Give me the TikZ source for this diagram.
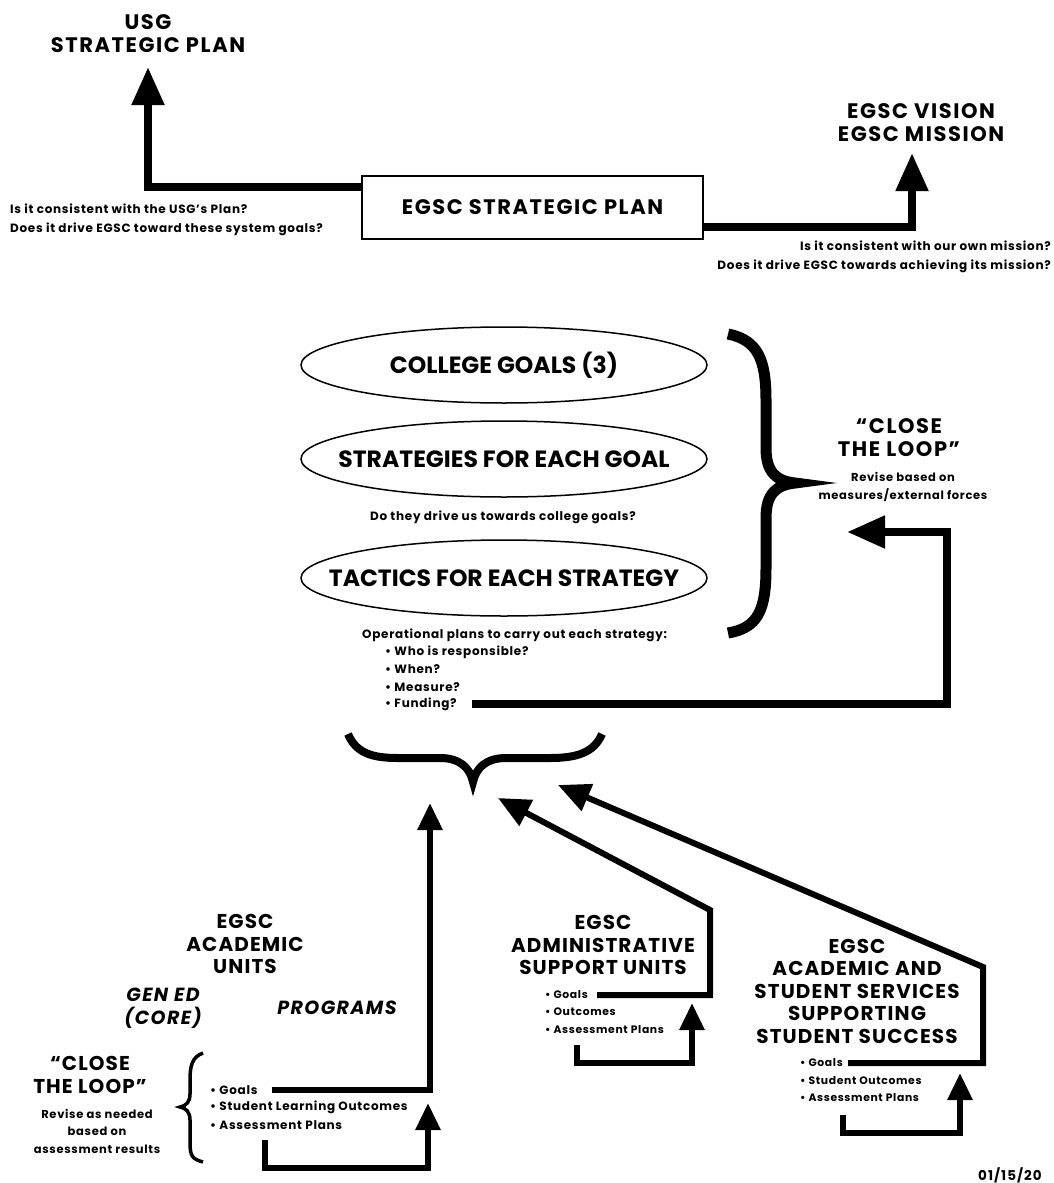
\documentclass[tikz,border=0pt]{standalone}
\usepackage{fontspec}
\setmainfont{Poppins}
\newfontfamily\hdfont{Poppins}[LetterSpace=7.5]
\newfontfamily\hdbfont{Poppins}[LetterSpace=5.5]
\newfontfamily\smfont{Poppins}[LetterSpace=6]
\usetikzlibrary{arrows.meta,shapes.geometric}
\begin{document}
\begin{tikzpicture}[x=1pt,y=-1pt,
  hd/.style={font=\hdfont\bfseries\fontsize{21}{23}\selectfont, align=center, inner sep=0pt},
  hdb/.style={font=\hdbfont\bfseries\fontsize{20}{22.5}\selectfont, align=center, inner sep=0pt},
  hdi/.style={font=\hdfont\bfseries\itshape\fontsize{19}{23}\selectfont, align=center, inner sep=0pt},
  sm/.style={font=\smfont\bfseries\fontsize{12}{19}\selectfont, inner sep=0pt},
  smc/.style={font=\smfont\bfseries\fontsize{11.5}{17.5}\selectfont, inner sep=0pt, align=center},
  bul/.style={font=\smfont\bfseries\fontsize{12}{17.5}\selectfont, inner sep=0pt, anchor=west},
  buls/.style={font=\smfont\bfseries\fontsize{10.8}{17.5}\selectfont, inner sep=0pt, anchor=west},
  bigarrow/.style={line width=8pt, -{Triangle[length=38pt,width=31pt]}},
  midarrow/.style={line width=6pt, -{Triangle[length=27pt,width=24pt]}},
  diagarrow/.style={line width=6pt, -{Triangle[length=32pt,width=28pt]}},
  brace/.style={line width=11pt},
  oval/.style={ellipse, draw, line width=1.5pt, minimum width=406pt, minimum height=76pt,
    inner xsep=-40pt, inner ysep=0pt, font=\bfseries\fontsize{23.5}{23.5}\selectfont}
]
\path[use as bounding box] (0,0) rectangle (1053,1183);

% ---------- top ----------
\node[hd] (usg) at (148,34) {USG\\STRATEGIC PLAN};
\node[draw, line width=1.5pt, minimum width=341pt, minimum height=63pt, inner sep=0pt,
  font=\hdfont\bfseries\fontsize{21}{21}\selectfont] (plan) at (532.5,207.5) {EGSC STRATEGIC PLAN};
\node[sm, anchor=west, align=left] (q1) at (10,219.5)
  {Is it consistent with the USG’s Plan?\\Does it drive EGSC toward these system goals?};
\node[hd] (vision) at (921,123) {EGSC VISION\\EGSC MISSION};
\node[sm, anchor=east, align=right] (q2) at (1051,257)
  {Is it consistent with our own mission?\\Does it drive EGSC towards achieving its mission?};

\coordinate (usgTip) at (148,67);
\coordinate (visTip) at (912,153);
\draw[bigarrow] ([yshift=20.5pt]plan.west) -| (usgTip);
\draw[bigarrow] ([yshift=-19.5pt]plan.east) -| (visTip);

% ---------- middle ----------
\node[oval] (goals) at (504,365) {COLLEGE GOALS (3)};
\node[oval] (strat) at (504,459) {STRATEGIES FOR EACH GOAL};
\node[sm] (dothey) at (503,517) {Do they drive us towards college goals?};
\node[oval] (tact) at (504,578) {TACTICS FOR EACH STRATEGY};

\node[sm, anchor=west] (oper) at (362,635) {Operational plans to carry out each strategy:};
\node[bul] (b1) at (385,652) {• Who is responsible?};
\node[bul] (b2) at (385,669) {• When?};
\node[bul] (b3) at (385,687) {• Measure?};
\node[bul] (b4) at (385,704) {• Funding?};

% right brace
\draw[brace] (728,334) .. controls (758,340) and (766,360) .. (766,400) -- (766,448)
  .. controls (766,472) and (776,481) .. (795,483)
  .. controls (776,485) and (766,494) .. (766,518) -- (766,568)
  .. controls (766,610) and (758,628) .. (728,633);

\node[hd] (close1) at (899,438) {“CLOSE\\THE LOOP”};
\node[smc] (rev1) at (903,487) {Revise based on\\measures/external forces};

\coordinate (loopCorner) at (947,532);
\coordinate (loopTip) at (847,532);
\draw[bigarrow] ([xshift=15pt]b4.east) -| (loopCorner) -- (loopTip);

% bottom brace
\draw[line width=8pt] (348,734) .. controls (356,753) and (372,758) .. (398,758) -- (440,758)
  .. controls (460,758) and (470,768) .. (473,782)
  .. controls (476,768) and (486,758) .. (506,758) -- (550,758)
  .. controls (576,758) and (594,753) .. (602,734);

% ---------- bottom: academic units ----------
\node[hdb] (acad) at (245,944) {EGSC\\ACADEMIC\\UNITS};
\node[hdi] (gened) at (163,1008) {GEN ED\\(CORE)};
\node[hdi] (prog) at (337,1008) {PROGRAMS};
\node[hdb] (close2) at (90,1075) {“CLOSE\\THE LOOP”};
\node[smc] (rev2) at (97,1131) {Revise as needed\\based on\\assessment results};
\draw[line width=3.5pt] (203,1053) .. controls (192,1057) and (190,1066) .. (190,1080) -- (190,1094)
  .. controls (190,1102) and (186,1106) .. (180,1107)
  .. controls (186,1108) and (190,1112) .. (190,1120) -- (190,1142)
  .. controls (190,1156) and (192,1159) .. (203,1162);

\node[bul] (ag) at (210,1090) {• Goals};
\node[bul] (aslo) at (210,1107) {• Student Learning Outcomes};
\node[bul] (aap) at (210,1125) {• Assessment Plans};

\coordinate (acadTip) at (430,803);
\draw[midarrow] ([xshift=14pt]ag.east) -| (acadTip);
\coordinate (aLoopS) at (265,1140);
\coordinate (aLoopTip) at (428,1103);
\draw[midarrow] (aLoopS) |- (428,1168) -- (aLoopTip);

% ---------- administrative ----------
\node[hdb] (admin) at (603,945) {EGSC\\ADMINISTRATIVE\\SUPPORT UNITS};
\node[buls] (dg) at (545,995) {• Goals};
\node[buls] (dout) at (545,1012) {• Outcomes};
\node[buls] (dap) at (545,1030) {• Assessment Plans};

\coordinate (adminCorner) at (710,910);
\coordinate (adminTip) at (498,798);
\draw[diagarrow] ([xshift=9pt]dg.east) -| (adminCorner) -- (adminTip);
\coordinate (dLoopS) at (577,1045);
\coordinate (dLoopTip) at (692,1003);
\draw[midarrow] (dLoopS) |- (692,1063) -- (dLoopTip);

% ---------- services ----------
\node[hdb] (serv) at (857,991) {EGSC\\ACADEMIC AND\\STUDENT SERVICES\\SUPPORTING\\STUDENT SUCCESS};
\node[buls] (sg) at (800,1063) {• Goals};
\node[buls] (sout) at (800,1080.5) {• Student Outcomes};
\node[buls] (sap) at (800,1098) {• Assessment Plans};

\coordinate (servCorner) at (983,967);
\coordinate (servTip) at (558,785);
\draw[diagarrow] ([xshift=5pt]sg.east) -| (servCorner) -- (servTip);
\coordinate (sLoopS) at (843,1115);
\coordinate (sLoopTip) at (960,1073);
\draw[midarrow] (sLoopS) |- (960,1133) -- (sLoopTip);

\node[font=\hdfont\bfseries\fontsize{13.5}{13.5}\selectfont, anchor=west, inner sep=0pt] (date) at (978,1175) {01/15/20};
\end{tikzpicture}
\end{document}
